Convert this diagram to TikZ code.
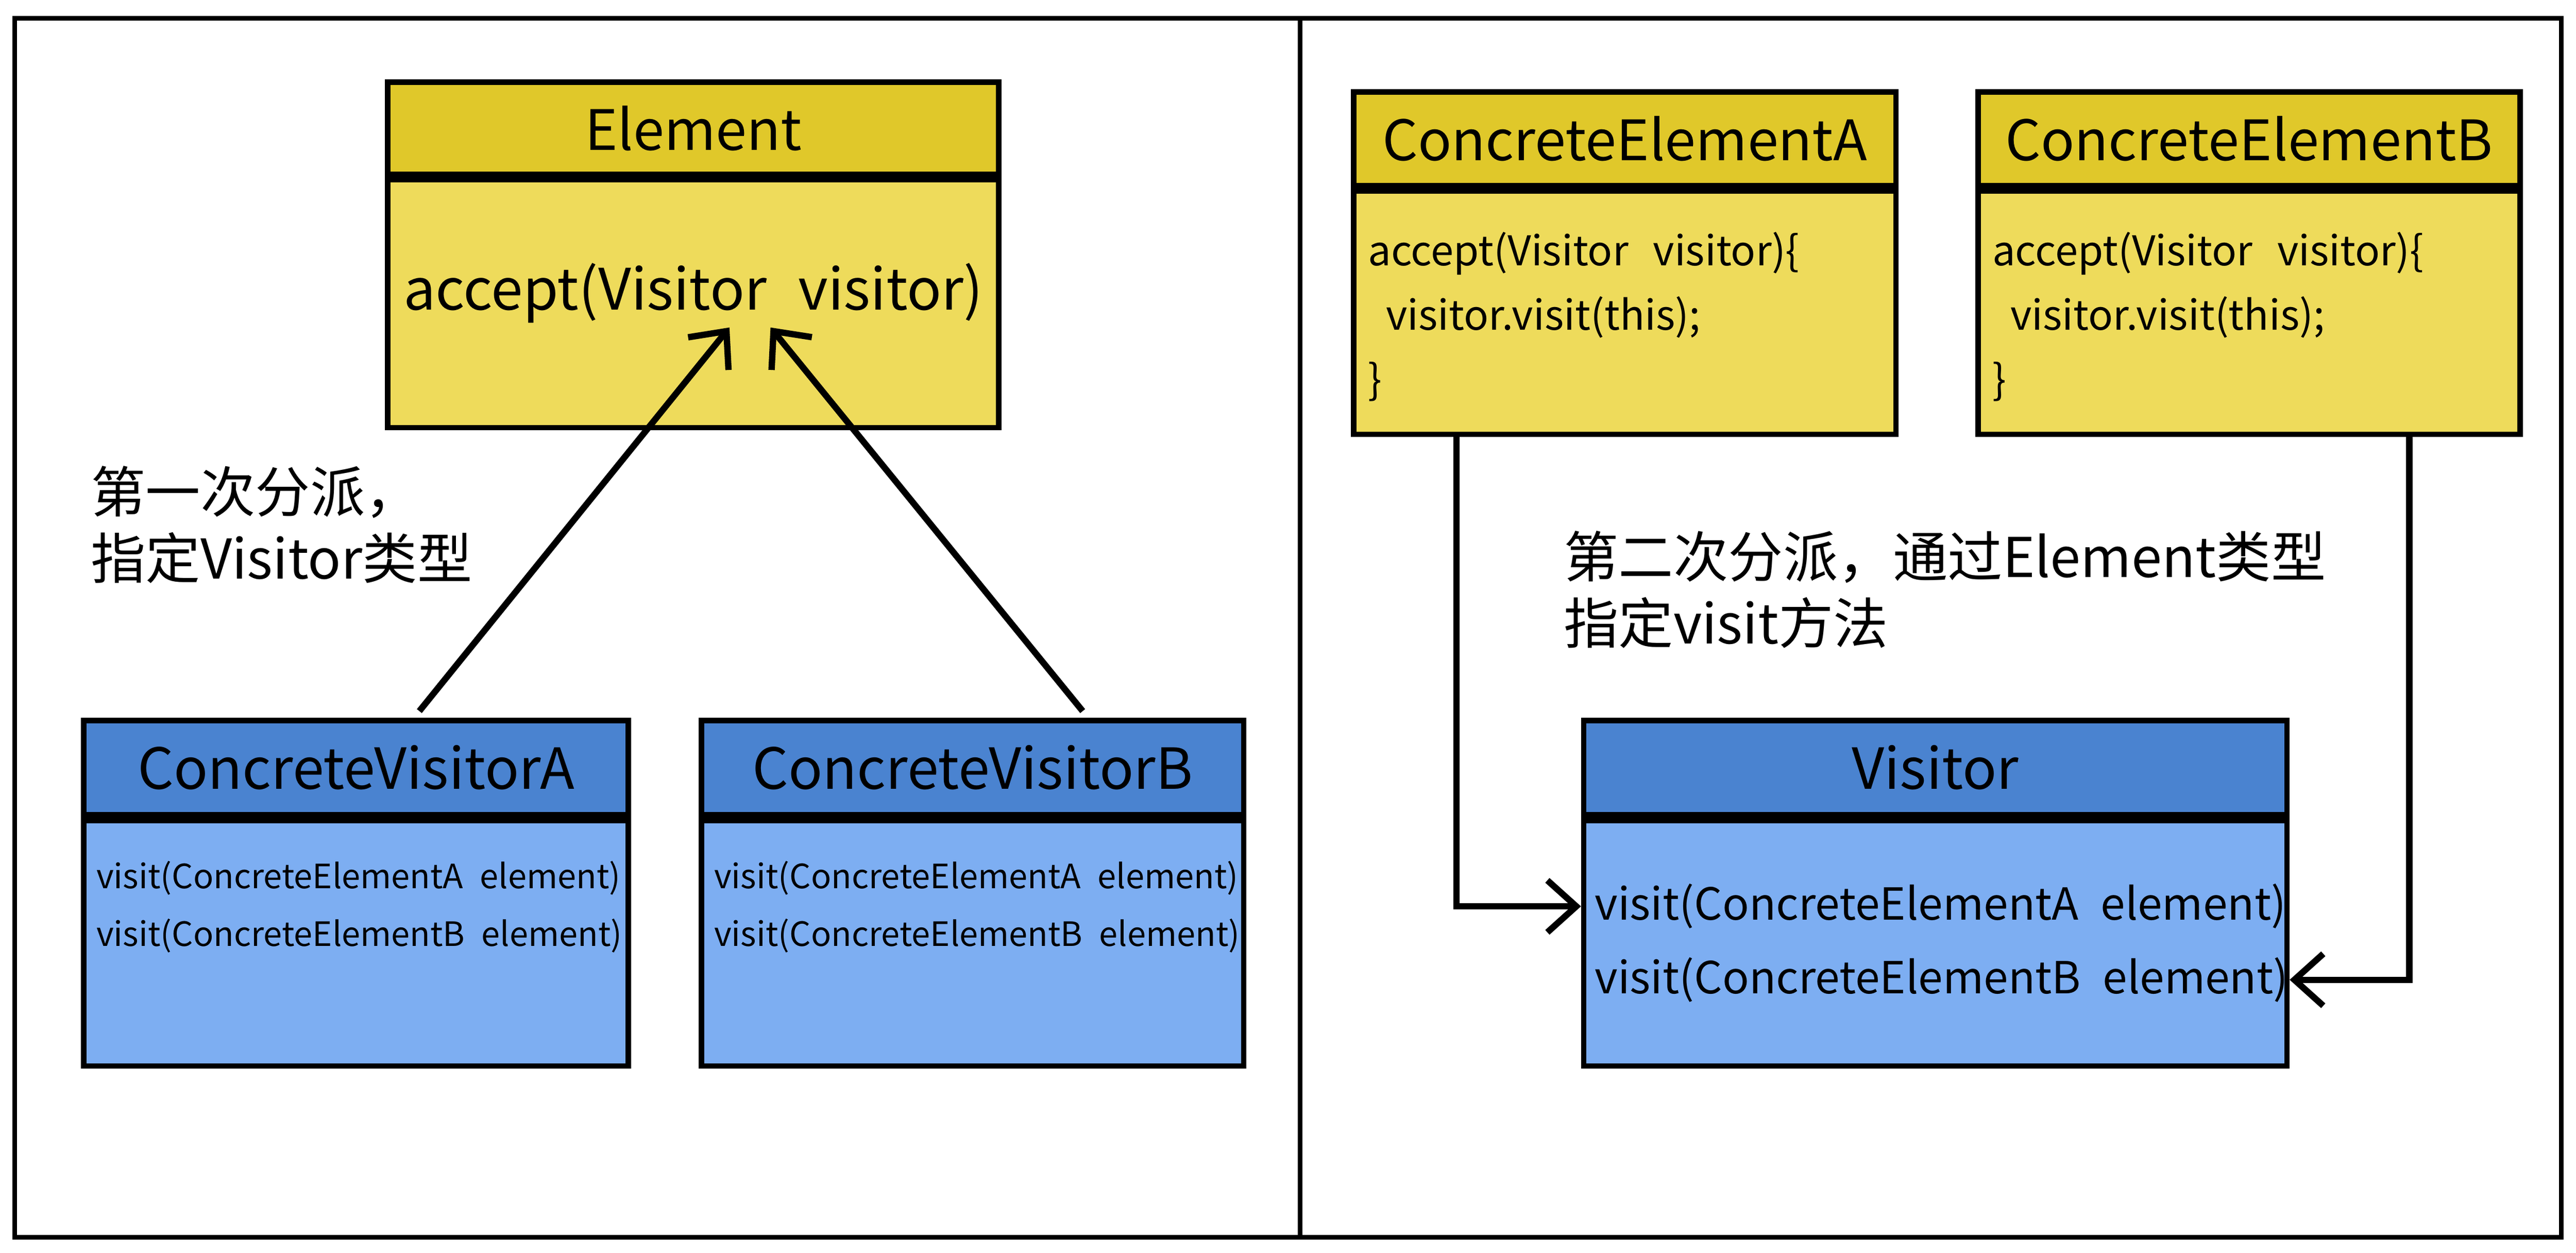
\documentclass[tikz,border=0pt]{standalone}
\usepackage{fontspec}
\setmainfont{Noto Sans CJK SC}
\usetikzlibrary{positioning, arrows.meta}

\definecolor{yhead}{HTML}{E0C82A}
\definecolor{ybody}{HTML}{EEDB5B}
\definecolor{bhead}{HTML}{4A83D0}
\definecolor{bbody}{HTML}{7DAEF2}

\newcommand{\codefont}{\fontsize{14.2}{22.3}\selectfont\spaceskip=0.6em\relax}
\newcommand{\methodfont}{\fontsize{11.6}{20}\selectfont\spaceskip=0.5em\relax}
\newcommand{\bigmethodfont}{\fontsize{15.3}{20}\selectfont\spaceskip=0.5em\relax}
\newcommand{\acceptfont}{\fontsize{19.8}{22}\selectfont\spaceskip=0.55em\relax}

\tikzstyle{elemtitle} = [rectangle, minimum height=1.14cm, inner sep=0pt, draw=black, line width=1.9pt, fill=yhead, font=\fontsize{19.3}{24}\selectfont]
\tikzstyle{elembox} = [rectangle, minimum height=2.96cm, inner sep=0pt, draw=black, line width=1.9pt, fill=ybody]
\tikzstyle{vistitle} = [rectangle, minimum height=1.15cm, inner sep=0pt, draw=black, line width=1.9pt, fill=bhead, font=\fontsize{19.6}{24}\selectfont]
\tikzstyle{visbox} = [rectangle, minimum height=2.99cm, inner sep=0pt, draw=black, line width=1.9pt, fill=bbody]
\tikzstyle{code} = [align=left, inner sep=0pt, font=\codefont]
\tikzstyle{method} = [align=left, inner sep=0pt, font=\methodfont]
\tikzstyle{note} = [align=left, inner sep=0pt, font=\fontsize{19}{23}\selectfont]
\tikzstyle{arrow} = [line width=2.2pt, -{Straight Barb[length=10pt,width=18pt]}]

\begin{document}
\begin{tikzpicture}[node distance=2cm]
\useasboundingbox (0,0) rectangle (31.36,-15.25);

% frame and divider
\draw [line width=1.6pt] (0.18,-0.22) rectangle (31.18,-15.06);
\draw [line width=1.6pt] (15.83,-0.22) -- (15.83,-15.06);

% first dispatch
\node (elemhead) [elemtitle, minimum width=7.44cm, minimum height=1.12cm] at (8.44,-1.56) {Element};
\node (elembody) [elembox, minimum width=7.44cm, minimum height=3.02cm, below=0pt of elemhead] {};
\node (accept) [inner sep=0pt, font=\acceptfont] at ([yshift=0.13cm]elembody.center) {accept(Visitor visitor)};

\node (cvAhead) [vistitle, minimum width=6.63cm, below of=elemhead, xshift=-4.105cm, yshift=-5.785cm] {ConcreteVisitorA};
\node (cvAbody) [visbox, minimum width=6.63cm, below=0pt of cvAhead] {};
\node (cvAm) [method, anchor=west] at ([xshift=0.18cm,yshift=-1.086cm]cvAbody.north west) {visit(ConcreteElementA element)\\visit(ConcreteElementB element)};

\node (cvBhead) [vistitle, minimum width=6.6cm, right of=cvAhead, xshift=5.505cm] {ConcreteVisitorB};
\node (cvBbody) [visbox, minimum width=6.6cm, below=0pt of cvBhead] {};
\node (cvBm) [method, anchor=west] at ([xshift=0.18cm,yshift=-1.086cm]cvBbody.north west) {visit(ConcreteElementA element)\\visit(ConcreteElementB element)};

\node (note1) [note, anchor=west] at (1.1,-6.385) {第一次分派，\\指定Visitor类型};

\draw [arrow] ([xshift=0.77cm,yshift=0.08cm]cvAhead.north) -- ([xshift=0.44cm,yshift=-0.29cm]elembody.center);
\draw [arrow] ([xshift=1.34cm,yshift=0.08cm]cvBhead.north) -- ([xshift=0.94cm,yshift=-0.29cm]elembody.center);

% second dispatch
\node (ceAhead) [elemtitle, minimum width=6.6cm, right of=elemhead, xshift=9.34cm, yshift=-0.13cm] {ConcreteElementA};
\node (ceAbody) [elembox, minimum width=6.6cm, below=0pt of ceAhead] {};
\node (ceAcode) [code, anchor=west] at ([xshift=0.2cm,yshift=-1.56cm]ceAbody.north west) {accept(Visitor visitor)\{\\\hspace*{0.22cm}visitor.visit(this);\\\}};

\node (ceBhead) [elemtitle, minimum width=6.6cm, right of=ceAhead, xshift=5.6cm] {ConcreteElementB};
\node (ceBbody) [elembox, minimum width=6.6cm, below=0pt of ceBhead] {};
\node (ceBcode) [code, anchor=west] at ([xshift=0.2cm,yshift=-1.56cm]ceBbody.north west) {accept(Visitor visitor)\{\\\hspace*{0.22cm}visitor.visit(this);\\\}};

\node (vhead) [vistitle, minimum width=8.56cm, below of=ceAhead, xshift=3.78cm, yshift=-5.655cm] {Visitor};
\node (vbody) [visbox, minimum width=8.56cm, below=0pt of vhead] {};
\node (vm1) [method, anchor=west, font=\bigmethodfont] at ([xshift=0.16cm,yshift=-1.08cm]vbody.north west) {visit(ConcreteElementA element)};
\node (vm2) [method, anchor=west, font=\bigmethodfont] at ([xshift=0.16cm,yshift=-1.974cm]vbody.north west) {visit(ConcreteElementB element)};

\node (note2) [note, anchor=west] at (19.03,-7.18) {第二次分派，通过Element类型\\指定visit方法};

\draw [arrow] ([xshift=-2.05cm]ceAbody.south) |- (vm1 -| vbody.west);
\draw [arrow] ([xshift=1.95cm]ceBbody.south) |- (vm2 -| vbody.east);

\end{tikzpicture}
\end{document}
